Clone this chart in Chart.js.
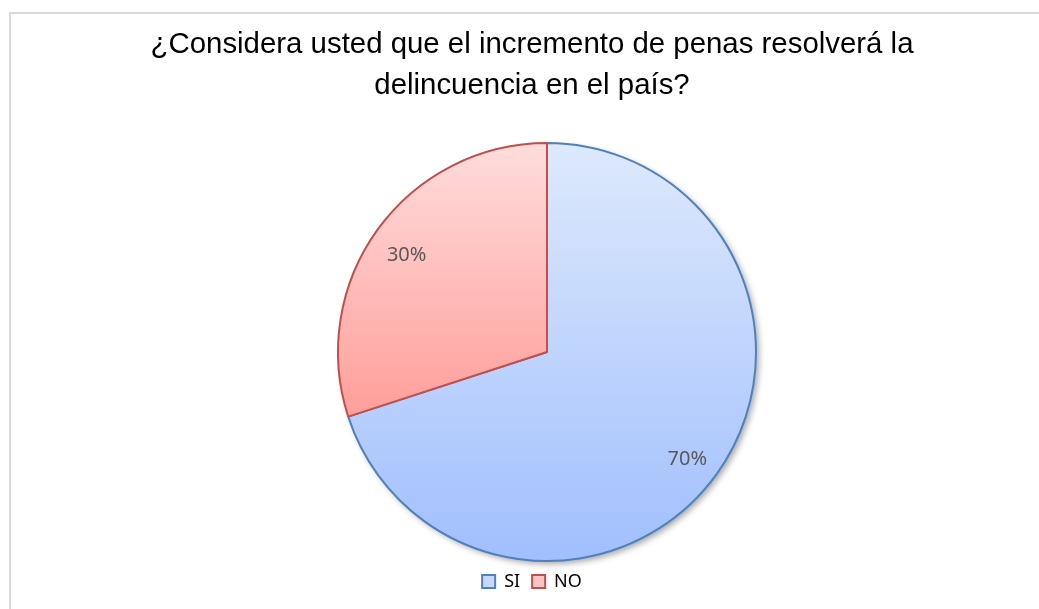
<!DOCTYPE html>
<html>
<head>
<meta charset="utf-8">
<script src="https://cdn.jsdelivr.net/npm/chart.js@4"></script>
<style>
    body { margin: 0; background: #fff; overflow: hidden; }
    .frame { position: absolute; left: 9px; top: 12px; width: 1100px; height: 700px;
             border-top: 2px solid #d9d9d9; border-left: 2px solid #d9d9d9; }
    .wrap { position: absolute; left: 0; top: 0; width: 1064px; height: 609px; }
</style>
</head>
<body>
<div class="frame"></div>
<div class="wrap"><canvas id="chart"></canvas></div>
<script>
const titulo = ["¿Considera usted que el incremento de penas resolverá la", "delincuencia en el país?"]
const categorias = ["SI", "NO"]
const valores = [70, 30]
const etiquetas = ["70%", "30%"]

const bordes = ["#4f81bd", "#c0504d"]
const cajas = ["#c6d9f7", "#f9c5c4"]

// degradado vertical como en Excel
const degradado = (c) => {
    const area = c.chart.chartArea
    if (!area) return cajas[c.dataIndex]
    const g = c.chart.ctx.createLinearGradient(0, area.top, 0, area.bottom)
    if (c.dataIndex === 0) {
        g.addColorStop(0, "#dde9fc")
        g.addColorStop(1, "#a1bffe")
    } else {
        g.addColorStop(0, "#ffdddc")
        g.addColorStop(0.655, "#ff9e9a")
        g.addColorStop(1, "#ff9e9a")
    }
    return g
}

const moverPie = {
    id: "moverPie",
    afterLayout(chart) {
        chart.chartArea.left += 30
        chart.chartArea.width -= 30
    }
}

const sombra = {
    id: "sombra",
    beforeDatasetsDraw(chart) {
        const arc = chart.getDatasetMeta(0).data[0]
        const ctx = chart.ctx
        ctx.save()
        ctx.shadowColor = "rgba(0,0,0,0.35)"
        ctx.shadowBlur = 6
        ctx.shadowOffsetX = 3
        ctx.shadowOffsetY = 3
        ctx.fillStyle = "#fff"
        ctx.beginPath()
        ctx.arc(arc.x, arc.y, arc.outerRadius, 0, Math.PI * 2)
        ctx.fill()
        ctx.restore()
    }
}

const rotulos = {
    id: "rotulos",
    afterDatasetsDraw(chart) {
        const ctx = chart.ctx
        ctx.save()
        ctx.font = "20px 'Noto Sans'"
        ctx.fillStyle = "#595959"
        ctx.textAlign = "center"
        ctx.textBaseline = "middle"
        chart.getDatasetMeta(0).data.forEach((arc, i) => {
            const mid = (arc.startAngle + arc.endAngle) / 2
            const r = arc.outerRadius * 0.83
            ctx.fillText(etiquetas[i], arc.x + Math.cos(mid) * r, arc.y + Math.sin(mid) * r + 5)
        })
        ctx.restore()
    }
}

new Chart(document.querySelector("#chart"), {
    type: "pie",
    data: {
        labels: categorias,
        datasets: [{
            data: valores,
            backgroundColor: degradado,
            borderColor: bordes,
            borderWidth: 2
        }]
    },
    options: {
        responsive: true,
        maintainAspectRatio: false,
        animation: false,
        radius: 209,
        layout: { padding: { bottom: 8.5 } },
        plugins: {
            tooltip: { enabled: false },
            title: {
                display: true,
                text: titulo,
                color: "#000",
                font: { family: "'Liberation Sans', Arial", size: 29.4, weight: "normal", lineHeight: 41 / 29.4 },
                padding: { top: 24.5, bottom: 37 }
            },
            legend: {
                position: "bottom",
                labels: {
                    boxWidth: 13,
                    boxHeight: 13,
                    padding: 12,
                    color: "#7f7f7f",
                    font: { family: "'Noto Sans'", size: 18 },
                    generateLabels: () => categorias.map((c, i) => ({
                        text: c,
                        fillStyle: cajas[i],
                        strokeStyle: bordes[i],
                        lineWidth: 2,
                        index: i
                    }))
                }
            }
        }
    },
    plugins: [moverPie, sombra, rotulos]
})
</script>
</body>
</html>
